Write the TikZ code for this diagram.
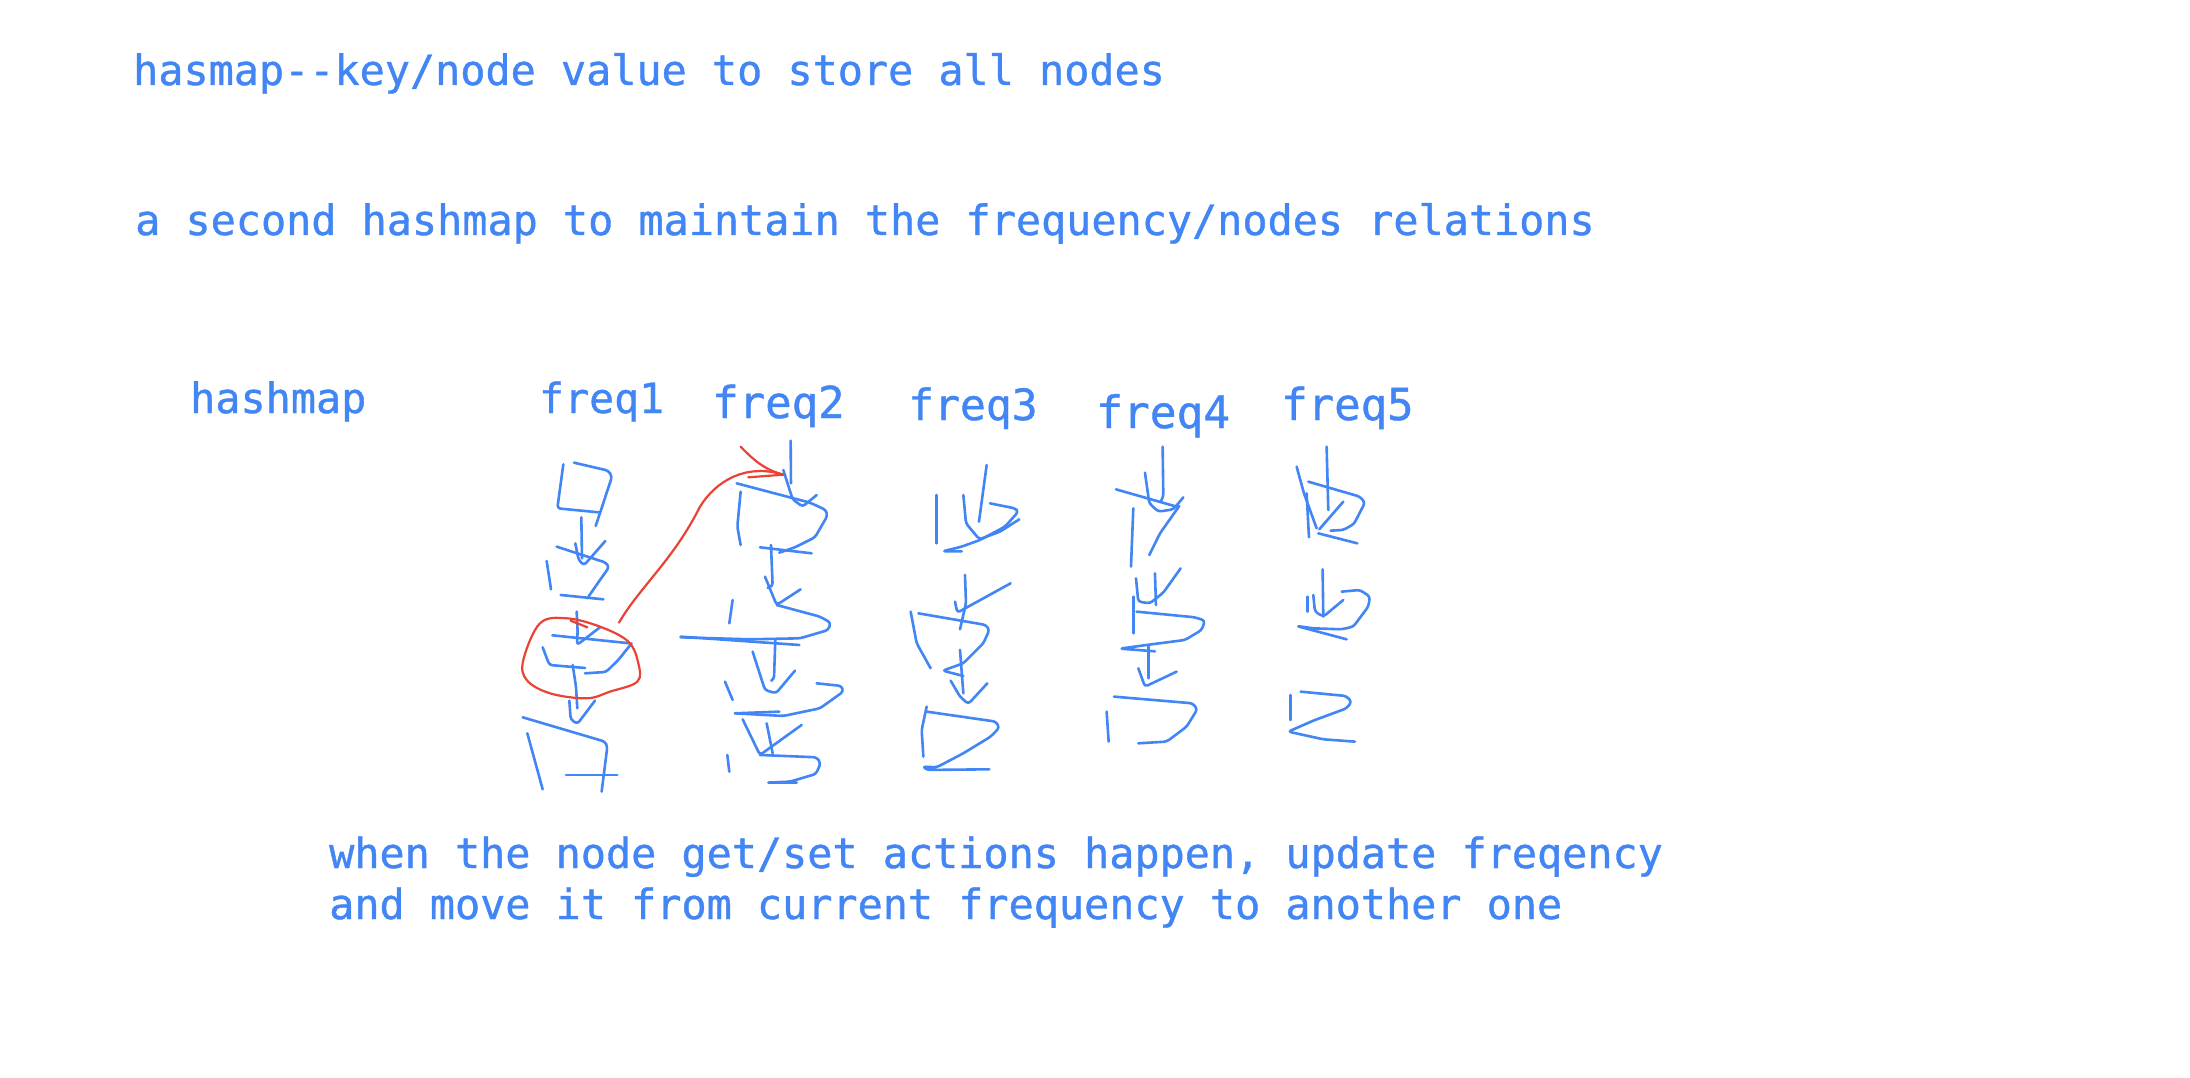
\documentclass[tikz,border=0pt]{standalone}
\usepackage{fontspec}
\newfontfamily\notefont{DejaVu Sans Mono}[FakeBold=0.9]
\usepackage{tikz}
\usetikzlibrary{positioning}

\definecolor{inkblue}{HTML}{4285F4}
\definecolor{inkred}{HTML}{EA4335}

\begin{document}
\begin{tikzpicture}[x=1pt,y=-1pt]
				\tikzstyle{note} = [text=inkblue, font=\notefont\fontsize{41.8}{51}\selectfont, anchor=base west, inner sep=0pt]
				\tikzstyle{ink} = [draw=inkblue, line width=2.6pt, line cap=round, line join=round, rounded corners=3pt]
				\tikzstyle{redink} = [draw=inkred, line width=2.2pt, line cap=round, line join=round]

				\useasboundingbox[fill=white] (0,0) rectangle (2190,1078);

				\node[note] (store) at (133,85) {hasmap--key/node value to store all nodes};
				\node[note] (second) at (135,235) {a second hashmap to maintain the frequency/nodes relations};
				\node[note] (hashmap) at (190,413) {hashmap};
				\node[note, font=\notefont\fontsize{41.5}{50}\selectfont] (freq1) at (539,413) {freq1};
				\node[note, font=\notefont\fontsize{44}{53}\selectfont] (freq2) at (712,418) {freq2};
				\node[note, font=\notefont\fontsize{43}{52}\selectfont] (freq3) at (908,420) {freq3};
				\node[note, font=\notefont\fontsize{44.5}{53}\selectfont] (freq4) at (1096,428) {freq4};
				\node[note, font=\notefont\fontsize{44}{53}\selectfont] (freq5) at (1281,420) {freq5};
				\node[note] (update) at (329,868) {when the node get/set actions happen, update freqency};
				\node[note] (move) at (329,919) {and move it from current frequency to another one};

				% freq1 and freq2 columns
				\begin{scope}[shift={(500,430)}, x=0.3333pt, y=-0.3333pt]
					\draw[ink] (190,103) -- (172,235) -- (296,247);
					\draw[ink] (222,98) -- (325,122) -- (336,140) -- (303,240) -- (287,288);
					\draw[ink] (244,262) -- (246,385);
					\draw[ink] (226,340) -- (236,390) -- (252,406) -- (316,333);
					\draw[ink] (170,350) -- (318,398) -- (327,412) -- (300,450) -- (262,505);
					\draw[ink] (140,393) -- (153,478);
					\draw[ink] (182,495) -- (310,508);
					\draw[ink] (230,545) -- (233,605);
					\draw[ink] (157,616) -- (390,640);
					\draw[ink] (233,600) -- (231,645) -- (300,592);
					\draw[ink] (128,652) -- (148,705) -- (255,714);
					\draw[ink] (255,730) -- (318,726) -- (355,690) -- (395,640);
					\draw[ink] (218,705) -- (228,770) -- (232,835);
					\draw[ink] (208,812) -- (212,868) -- (232,882) -- (285,812);
					\draw[ink] (68,862) -- (315,935) -- (322,950) -- (305,1085);
					\draw[ink] (82,910) -- (128,1078);
					\draw[ink] (198,1035) -- (352,1035);

					\draw[ink] (872,32) -- (873,160);
					\draw[ink] (710,160) -- (930,218) -- (978,240) -- (982,258) -- (945,322) -- (885,352) -- (838,368);
					\draw[ink] (780,352) -- (935,370);
					\draw[ink] (850,120) -- (878,208) -- (908,230) -- (950,195);
					\draw[ink] (722,185) -- (712,290) -- (722,345);
					\draw[ink] (813,345) -- (818,468) -- (803,474);
					\draw[ink] (795,440) -- (830,525) -- (902,478);
					\draw[ink] (830,525) -- (960,560) -- (992,578) -- (985,600) -- (900,625) -- (750,628) -- (542,622);
					\draw[ink] (542,620) -- (898,645);
					\draw[ink] (698,510) -- (688,580);
					\draw[ink] (826,630) -- (822,748) -- (814,752);
					\draw[ink] (758,665) -- (795,780) -- (828,790) -- (885,722);
					\draw[ink] (675,755) -- (698,810);
					\draw[ink] (950,760) -- (1025,768) -- (1030,785) -- (960,835) -- (850,858) -- (705,850);
					\draw[ink] (705,850) -- (838,845);
					\draw[ink] (728,868) -- (780,975) -- (905,885);
					\draw[ink] (800,880) -- (818,970);
					\draw[ink] (780,975) -- (950,982) -- (962,1000) -- (948,1032) -- (870,1055) -- (800,1058) -- (890,1058);
					\draw[ink] (682,975) -- (688,1025);

					% the moved entry
					\coordinate (moved) at (357,578);
					\coordinate (target) at (850,134);
					\draw[redink] plot[smooth cycle, tension=0.6] coordinates {(120,580) (200,565) (300,590) (385,635) (415,700) (412,755) (330,785) (260,805) (150,790) (80,750) (70,690)};
					\draw[redink] (212,572) -- (262,592);
					\draw[redink] (moved) .. controls (420,470) and (520,390) .. (600,230) .. controls (650,150) and (740,100) .. (target);
					\draw[redink] (722,50) .. controls (770,100) and (800,120) .. (target) -- (745,142);
				\end{scope}

				% freq3, freq4 and freq5 columns
				\begin{scope}[shift={(880,430)}, x=0.3333pt, y=-0.3333pt]
					\draw[ink] (170,195) -- (170,340);
					\draw[ink] (250,195) -- (258,280) -- (298,328) -- (360,305) -- (418,268);
					\draw[ink] (320,105) -- (297,275);
					\draw[ink] (330,220) -- (405,235) -- (415,245) -- (375,290) -- (300,330) -- (245,350) -- (188,364) -- (245,364);
					\draw[ink] (255,435) -- (258,520) -- (240,598);
					\draw[ink] (225,515) -- (232,548) -- (392,460);
					\draw[ink] (92,545) -- (110,640) -- (152,715);
					\draw[ink] (115,550) -- (318,585) -- (328,600) -- (310,640) -- (250,700) -- (188,722) -- (250,738);
					\draw[ink] (240,660) -- (250,790);
					\draw[ink] (212,752) -- (240,800) -- (265,822) -- (322,760);
					\draw[ink] (140,830) -- (125,900) -- (130,980);
					\draw[ink] (140,845) -- (348,875) -- (358,893) -- (332,920) -- (250,970) -- (170,1012) -- (128,1010) -- (142,1020) -- (328,1018);

					\draw[ink] (848,50) -- (850,200) -- (842,215);
					\draw[ink] (708,178) -- (890,230);
					\draw[ink] (795,128) -- (808,220) -- (835,245) -- (880,238) -- (910,202);
					\draw[ink] (898,228) -- (840,310) -- (808,375);
					\draw[ink] (760,235) -- (753,410);
					\draw[ink] (825,430) -- (828,525);
					\draw[ink] (768,445) -- (775,515) -- (810,520) -- (850,488) -- (902,415);
					\draw[ink] (760,500) -- (760,610);
					\draw[ink] (770,545) -- (945,562) -- (975,572) -- (965,600) -- (915,630) -- (800,645) -- (720,656) -- (825,664);
					\draw[ink] (805,650) -- (805,745);
					\draw[ink] (775,715) -- (795,770) -- (890,725);
					\draw[ink] (702,800) -- (938,820) -- (952,838) -- (920,890) -- (860,935) -- (775,940);
					\draw[ink] (680,845) -- (686,935);

					\draw[ink] (1340,50) -- (1345,240);
					\draw[ink] (1250,110) -- (1272,190) -- (1310,295);
					\draw[ink] (1280,190) -- (1287,322);
					\draw[ink] (1285,155) -- (1440,200) -- (1455,218) -- (1422,282) -- (1390,300) -- (1352,302);
					\draw[ink] (1390,215) -- (1318,298);
					\draw[ink] (1315,310) -- (1432,340);
					\draw[ink] (1328,418) -- (1330,560);
					\draw[ink] (1300,495) -- (1305,545) -- (1330,560) -- (1390,510);
					\draw[ink] (1282,500) -- (1282,545);
					\draw[ink] (1385,485) -- (1440,480) -- (1470,500) -- (1465,530) -- (1420,590) -- (1385,598) -- (1300,595) -- (1250,588) -- (1400,628);
					\draw[ink] (1232,795) -- (1232,870);
					\draw[ink] (1262,785) -- (1398,798) -- (1415,815) -- (1400,835) -- (1300,872) -- (1225,905) -- (1330,928) -- (1425,935);
				\end{scope}
			\end{tikzpicture}
\end{document}
